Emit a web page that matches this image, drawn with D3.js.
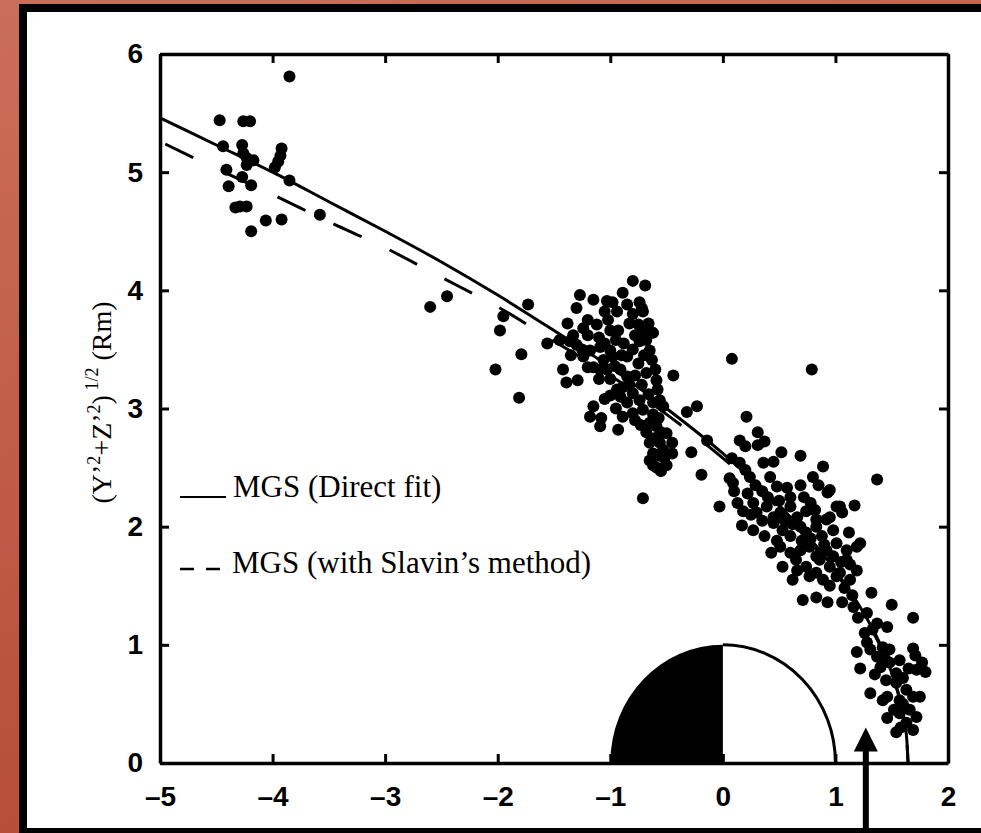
<!DOCTYPE html>
<html>
<head>
<meta charset="utf-8">
<script src="https://cdn.jsdelivr.net/npm/d3@7"></script>
<style>
  html, body { margin: 0; padding: 0; background: #c0604b; }
  svg { display: block; }
</style>
</head>
<body>
<svg id="chart" width="981" height="833"></svg>
<script>
// tick values and labels
const xTicks = [-5, -4, -3, -2, -1, 0, 1, 2];
const xTickLabels = ['\u20135', '\u20134', '\u20133', '\u20132', '\u20131', '0', '1', '2'];
const yTicks = [0, 1, 2, 3, 4, 5, 6];
const yTickLabels = ['0', '1', '2', '3', '4', '5', '6'];

// bow shock crossings [x, rho] in Rm
const crossings = [
  [-3.85, 5.81], [-4.47, 5.44], [-4.26, 5.43], [-4.20, 5.43], [-4.44, 5.22], [-4.27, 5.23],
  [-4.26, 5.16], [-4.23, 5.12], [-4.17, 5.10], [-4.23, 5.06], [-3.92, 5.20], [-3.93, 5.14],
  [-3.95, 5.09], [-3.98, 5.04], [-4.41, 5.02], [-3.85, 4.93], [-4.39, 4.88], [-4.27, 4.96],
  [-4.19, 4.89], [-4.33, 4.70], [-4.29, 4.71], [-4.23, 4.71], [-4.19, 4.50], [-4.06, 4.59],
  [-3.92, 4.60], [-3.58, 4.64],
  [-2.60, 3.86], [-2.45, 3.95], [-1.73, 3.88], [-1.95, 3.78], [-1.98, 3.66], [-2.02, 3.33],
  [-1.79, 3.46], [-1.81, 3.09], [-1.56, 3.55], [-1.38, 3.72],
  [-1.27, 3.96], [-1.15, 3.92], [-1.03, 3.91], [-1.30, 3.85], [-0.80, 4.08], [-0.69, 4.04],
  [-0.89, 3.98], [-0.74, 3.90], [-0.72, 3.85], [-0.71, 3.82], [-0.94, 3.82], [-1.24, 3.68],
  [-1.12, 3.71], [-1.02, 3.75], [-1.00, 3.66], [-0.93, 3.66], [-0.83, 3.72], [-0.75, 3.71],
  [-1.45, 3.58], [-1.36, 3.57], [-1.30, 3.54], [-1.18, 3.49], [-1.09, 3.52], [-1.00, 3.49],
  [-0.98, 3.44], [-1.06, 3.41], [-0.85, 3.44], [-0.74, 3.57], [-0.68, 3.58], [-0.65, 3.49],
  [-0.63, 3.41], [-0.60, 3.33], [-0.59, 3.24], [-0.58, 3.16], [-0.56, 3.07], [-0.53, 3.02],
  [-1.24, 3.44], [-1.15, 3.35], [-1.09, 3.33], [-1.03, 3.33], [-0.91, 3.33], [-0.85, 3.27],
  [-0.83, 3.20], [-0.89, 3.18], [-0.94, 3.16], [-1.42, 3.33], [-1.39, 3.22], [-1.29, 3.24],
  [-1.00, 3.11], [-0.91, 3.10], [-0.80, 3.13], [-0.74, 3.07], [-1.15, 3.02], [-1.18, 2.93],
  [-1.08, 2.92], [-1.09, 2.85], [-0.89, 2.93], [-0.80, 2.96], [-0.71, 2.99], [-0.62, 3.05],
  [-0.44, 3.28], [-0.32, 2.97], [-0.23, 3.02], [-0.65, 2.88], [-0.59, 2.85], [-0.93, 2.82],
  [-0.68, 2.80], [-0.50, 2.79], [-0.45, 2.71], [-0.65, 2.71], [-0.62, 2.62], [-0.65, 2.56],
  [-0.59, 2.50], [-0.50, 2.52], [-0.45, 2.62], [-0.56, 2.71], [-0.53, 2.65], [-0.28, 2.63],
  [-0.19, 2.44], [-0.71, 2.24], [-0.14, 2.73],
  [-1.20, 3.62], [-1.10, 3.60], [-1.05, 3.55], [-0.95, 3.58], [-0.88, 3.55], [-0.80, 3.50],
  [-0.78, 3.62], [-0.70, 3.65], [-0.66, 3.72], [-0.62, 3.64], [-0.70, 3.45], [-0.75, 3.38],
  [-0.68, 3.30], [-0.72, 3.20], [-0.66, 3.12], [-0.62, 2.95], [-0.57, 2.92], [-0.55, 2.80],
  [-0.60, 2.75], [-0.58, 2.60], [-0.52, 2.58], [-0.62, 2.52], [-0.55, 2.47], [-1.20, 3.75],
  [-1.05, 3.82], [-0.98, 3.90], [-0.85, 3.88], [-0.80, 3.80], [-1.35, 3.45], [-1.25, 3.50],
  [-1.20, 3.35], [-1.10, 3.25], [-1.00, 3.25], [-0.95, 3.00], [-0.85, 3.05], [-1.05, 3.08],
  [-0.78, 2.90], [-0.73, 2.86], [-1.33, 3.62], [-0.90, 3.45], [-0.96, 3.36], [-0.78, 3.28],
  [0.08, 3.42], [0.79, 3.33], [1.37, 2.40], [0.21, 2.93], [0.15, 2.73], [0.20, 2.68],
  [0.31, 2.80], [0.31, 2.69], [0.37, 2.72], [0.08, 2.58], [0.15, 2.54], [0.20, 2.48],
  [0.36, 2.54], [0.45, 2.55], [0.52, 2.63], [0.69, 2.60], [0.89, 2.51], [0.06, 2.41],
  [0.09, 2.37], [0.24, 2.42], [0.29, 2.35], [0.42, 2.42], [0.48, 2.34], [0.57, 2.33],
  [0.60, 2.25], [0.69, 2.35], [0.80, 2.42], [0.85, 2.35], [0.93, 2.29], [-0.03, 2.17],
  [0.13, 2.20], [0.18, 2.13], [0.27, 2.20], [0.30, 2.12], [0.39, 2.17], [0.45, 2.08],
  [0.51, 2.12], [0.60, 2.17], [0.66, 2.08], [0.74, 2.13], [0.82, 2.14], [0.83, 2.06],
  [1.01, 2.17], [1.06, 2.12], [1.17, 2.18], [0.17, 2.01], [0.27, 1.97], [0.37, 1.92],
  [0.45, 2.03], [0.53, 1.97], [0.60, 1.92], [0.69, 2.00], [0.74, 1.95], [0.83, 2.00],
  [0.92, 2.06], [0.98, 1.97], [0.43, 1.78], [0.51, 1.83], [0.60, 1.78], [0.69, 1.80],
  [0.77, 1.83], [0.83, 1.75], [0.92, 1.80], [1.01, 1.86], [1.10, 1.80], [1.19, 1.83],
  [1.22, 1.86], [0.53, 1.66], [0.66, 1.63], [0.74, 1.66], [0.83, 1.61], [0.95, 1.66],
  [1.04, 1.61], [1.13, 1.68], [1.19, 1.63], [1.10, 1.72], [0.86, 1.72], [0.77, 1.58],
  [0.89, 1.55], [1.01, 1.58], [1.13, 1.55], [0.71, 1.38], [0.83, 1.40], [0.93, 1.36],
  [1.06, 1.36], [1.32, 1.44], [1.50, 1.34], [1.69, 1.23], [1.16, 1.32], [1.20, 1.23],
  [1.28, 1.27], [1.37, 1.18], [1.46, 1.15], [1.26, 1.10], [1.33, 1.13], [1.19, 0.94],
  [1.22, 0.80], [1.31, 0.96], [1.37, 0.90], [1.42, 0.98], [1.48, 0.96], [1.40, 0.81],
  [1.48, 0.85], [1.54, 0.76], [1.57, 0.87], [1.69, 0.97], [1.71, 0.91], [1.77, 0.85],
  [1.80, 0.77], [1.72, 0.79], [1.31, 0.59], [1.46, 0.56], [1.54, 0.68], [1.57, 0.53],
  [1.63, 0.62], [1.69, 0.56], [1.75, 0.56], [1.66, 0.45], [1.72, 0.39], [1.57, 0.42],
  [1.46, 0.38], [1.54, 0.26], [1.63, 0.34], [1.69, 0.28], [1.42, 0.53], [0.95, 2.31],
  [1.04, 2.17], [0.95, 2.08],
  [0.10, 2.30], [0.22, 2.28], [0.35, 2.30], [0.40, 2.25], [0.50, 2.22], [0.55, 2.05],
  [0.62, 2.02], [0.70, 1.88], [0.78, 1.90], [0.88, 1.92], [0.90, 1.85], [0.98, 1.75],
  [1.05, 1.70], [0.95, 1.50], [1.08, 1.48], [0.65, 1.72], [0.48, 1.88], [0.35, 2.05],
  [0.25, 2.10], [0.72, 2.25], [0.78, 2.20], [1.12, 1.95], [0.62, 1.55], [1.15, 1.42],
  [1.35, 0.75], [1.45, 0.70], [1.60, 0.72], [1.52, 0.45], [1.60, 0.50], [1.58, 0.30],
  [1.44, 0.88], [1.28, 1.02], [1.65, 0.80]
];

// fitted bow shock shapes [x, rho]
const directFit = [
  [-5, 5.46], [-4.5, 5.23], [-4, 5.00], [-3.5, 4.75], [-3, 4.50], [-2.5, 4.24], [-2, 3.96],
  [-1.5, 3.66], [-1, 3.35], [-0.5, 3.00], [0, 2.62], [0.5, 2.18], [0.8, 1.87], [1.0, 1.63],
  [1.2, 1.35], [1.35, 1.10], [1.45, 0.89], [1.55, 0.62], [1.6, 0.43], [1.63, 0.24], [1.645, 0]
];
const slavinFit = [
  [-5, 5.26], [-4.5, 5.03], [-4, 4.81], [-3.5, 4.58], [-3, 4.36], [-2.5, 4.11], [-2, 3.86],
  [-1.5, 3.57], [-1, 3.28], [-0.5, 2.95], [0, 2.58], [0.5, 2.15], [1.0, 1.61], [1.2, 1.33],
  [1.35, 1.08], [1.45, 0.88], [1.55, 0.61], [1.6, 0.42], [1.63, 0.23], [1.645, 0]
];

const legendLabels = ['MGS (Direct fit)', 'MGS (with Slavin\u2019s method)'];
const planetRadius = 1;
const arrowMark = { x: 1.27, tip: 0.30 };

const svg = d3.select('#chart');

/// background and white panel
const defs = svg.append('defs');
const grad = defs.append('linearGradient')
  .attr('id', 'bg').attr('x1', 0).attr('y1', 0).attr('x2', 0.25).attr('y2', 1);
grad.append('stop').attr('offset', '0%').attr('stop-color', '#cb6e59');
grad.append('stop').attr('offset', '100%').attr('stop-color', '#b54c37');

svg.append('rect').attr('width', 981).attr('height', 833).attr('fill', 'url(#bg)');
svg.append('rect')
  .attr('x', 23).attr('y', 8).attr('width', 1000).attr('height', 824)
  .attr('fill', '#fff').attr('stroke', '#000').attr('stroke-width', 8);

const x = d3.scaleLinear().domain([-5, 2]).range([160, 948]);
const y = d3.scaleLinear().domain([0, 6]).range([763, 54]);

/// scatter
svg.append('g')
  .selectAll('circle')
  .data(crossings)
  .enter().append('circle')
  .attr('cx', (d) => x(d[0]))
  .attr('cy', (d) => y(d[1]))
  .attr('r', 6)
  .attr('fill', '#000');

/// fit curves
const line = d3.line()
  .x((d) => x(d[0]))
  .y((d) => y(d[1]))
  .curve(d3.curveCatmullRom.alpha(0.5));

svg.append('path')
  .datum(slavinFit)
  .attr('d', line)
  .attr('fill', 'none')
  .attr('stroke', '#000')
  .attr('stroke-width', 3)
  .attr('stroke-dasharray', '31,31')
  .attr('stroke-dashoffset', 56);

svg.append('path')
  .datum(directFit)
  .attr('d', line)
  .attr('fill', 'none')
  .attr('stroke', '#000')
  .attr('stroke-width', 3);

/// Mars: dayside half-disc, night half black
const rx = x(planetRadius) - x(0);
const ry = y(0) - y(planetRadius);
svg.append('path')
  .attr('d', `M${x(0)},${y(0)} L${x(-planetRadius)},${y(0)} A${rx},${ry} 0 0 1 ${x(0)},${y(planetRadius)} Z`)
  .attr('fill', '#000');
svg.append('path')
  .attr('d', `M${x(0)},${y(planetRadius)} A${rx},${ry} 0 0 1 ${x(planetRadius)},${y(0)}`)
  .attr('fill', '#fff')
  .attr('stroke', '#000')
  .attr('stroke-width', 3);

/// axes, ticks pointing in
const tickFont = (g) => g.selectAll('text')
  .attr('font-family', '"Liberation Sans", Arial, sans-serif')
  .attr('font-weight', 'bold')
  .attr('font-size', 28)
  .attr('fill', '#000');

const styleAxis = (g) => {
  g.select('.domain').attr('stroke', '#000').attr('stroke-width', 3.5);
  g.selectAll('.tick line').attr('stroke', '#000').attr('stroke-width', 3);
};

svg.append('g')
  .attr('transform', `translate(0,${y(0)})`)
  .call(d3.axisBottom(x).tickValues(xTicks).tickSizeInner(-9).tickSizeOuter(0)
    .tickPadding(23).tickFormat((d, i) => xTickLabels[i]))
  .call(styleAxis)
  .call(tickFont);

svg.append('g')
  .attr('transform', `translate(0,${y(6)})`)
  .call(d3.axisTop(x).tickValues(xTicks).tickSizeInner(-9).tickSizeOuter(0).tickFormat(''))
  .call(styleAxis);

svg.append('g')
  .attr('transform', `translate(${x(-5)},0)`)
  .call(d3.axisLeft(y).tickValues(yTicks).tickSizeInner(-9).tickSizeOuter(0)
    .tickPadding(17).tickFormat((d, i) => yTickLabels[i]))
  .call(styleAxis)
  .call(tickFont);

svg.append('g')
  .attr('transform', `translate(${x(2)},0)`)
  .call(d3.axisRight(y).tickValues(yTicks).tickSizeInner(-9).tickSizeOuter(0).tickFormat(''))
  .call(styleAxis);

/// y axis title
const ytitle = svg.append('text')
  .attr('transform', `translate(111,${(y(0) + y(6)) / 2 - 6}) rotate(-90)`)
  .attr('text-anchor', 'middle')
  .attr('font-family', '"Liberation Serif", "Times New Roman", serif')
  .attr('font-size', 28)
  .attr('fill', '#000');
ytitle.append('tspan').text('(Y\u2019');
ytitle.append('tspan').attr('font-size', 18).attr('dy', -11).text('2');
ytitle.append('tspan').attr('dy', 11).text('+Z\u2019');
ytitle.append('tspan').attr('font-size', 18).attr('dy', -11).text('2');
ytitle.append('tspan').attr('dy', 11).text(')');
ytitle.append('tspan').attr('font-size', 18).attr('dy', -13).text(' 1/2');
ytitle.append('tspan').attr('dy', 13).text(' (Rm)');

/// legend
const legend = svg.append('g')
  .attr('font-family', '"Liberation Serif", "Times New Roman", serif')
  .attr('font-size', 31)
  .attr('fill', '#000');

legend.append('line')
  .attr('x1', 180).attr('x2', 226).attr('y1', 497).attr('y2', 497)
  .attr('stroke', '#000').attr('stroke-width', 2);
legend.append('text').attr('x', 233).attr('y', 497).text(legendLabels[0]);

legend.append('line')
  .attr('x1', 180).attr('x2', 221).attr('y1', 569).attr('y2', 569)
  .attr('stroke', '#000').attr('stroke-width', 2.5)
  .attr('stroke-dasharray', '14,12');
legend.append('text').attr('x', 232).attr('y', 573).text(legendLabels[1]);

/// arrow marking the subsolar point
const ax = x(arrowMark.x);
const tipY = y(arrowMark.tip);
svg.append('line')
  .attr('x1', ax).attr('x2', ax).attr('y1', tipY + 20).attr('y2', 840)
  .attr('stroke', '#000').attr('stroke-width', 6);
svg.append('path')
  .attr('d', `M${ax},${tipY} L${ax + 12},${tipY + 24} L${ax - 12},${tipY + 24} Z`)
  .attr('fill', '#000');
</script>
</body>
</html>
